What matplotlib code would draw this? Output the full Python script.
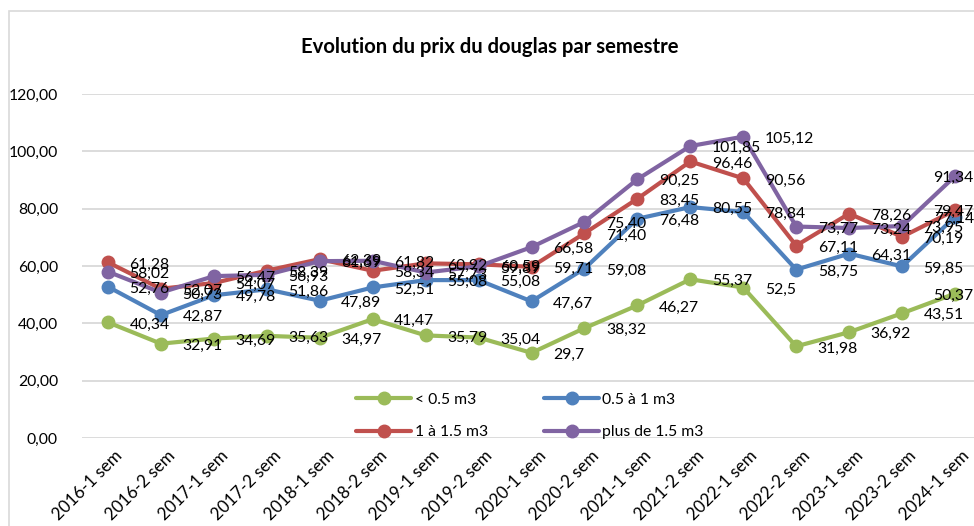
import matplotlib
matplotlib.use("Agg")
import matplotlib.pyplot as plt
import matplotlib.transforms as mtransforms
from matplotlib.patches import Rectangle

categories = ["2016-1 sem", "2016-2 sem", "2017-1 sem", "2017-2 sem", "2018-1 sem",
              "2018-2 sem", "2019-1 sem", "2019-2 sem", "2020-1 sem", "2020-2 sem",
              "2021-1 sem", "2021-2 sem", "2022-1 sem", "2022-2 sem", "2023-1 sem",
              "2023-2 sem", "2024-1 sem"]

small = [40.34, 32.91, 34.69, 35.63, 34.97, 41.47, 35.79, 35.04, 29.7, 38.32,
         46.27, 55.37, 52.5, 31.98, 36.92, 43.51, 50.37]
medium = [52.76, 42.87, 49.78, 51.86, 47.89, 52.51, 55.08, 55.08, 47.67, 59.08,
          76.48, 80.55, 78.84, 58.75, 64.31, 59.85, 77.14]
large = [61.28, 52.07, 54.07, 58.39, 62.39, 58.34, 60.92, 60.59, 59.71, 71.40,
         83.45, 96.46, 90.56, 67.11, 78.26, 70.19, 79.47]
xlarge = [58.02, 50.73, 56.47, 56.93, 61.69, 61.82, 57.73, 59.89, 66.58, 75.40,
          90.25, 101.85, 105.12, 73.77, 73.24, 73.95, 91.34]

series_names = ["< 0.5 m3", "0.5 à 1 m3", "1 à 1.5 m3", "plus de 1.5 m3"]
colors = ["#9BBB59", "#4F81BD", "#C0504D", "#8064A2"]
yticks = [0, 20, 40, 60, 80, 100, 120]

def fmt(v):
    s = ("%.2f" % v).rstrip("0").rstrip(".") if v in (29.7, 52.5) else "%.2f" % v
    return s.replace(".", ",")

plt.rcParams['font.family'] = ['Lato', 'DejaVu Sans']

W, H = 974, 526
fig = plt.figure(figsize=(W / 100, H / 100), dpi=100)

# chart border
fig.patches.append(Rectangle((8.5 / W, -0.1), 1.2, 1 - 11 / H + 0.1, transform=fig.transFigure,
                             fill=False, edgecolor="#D9D9D9", linewidth=1.2))

left, right = 81.5, 981.5
top, bottom = 94, 438
ax = fig.add_axes([left / W, 1 - bottom / H, (right - left) / W, (bottom - top) / H])
ax.set_xlim(-0.5, len(categories) - 0.5)
ax.set_ylim(0, 120)

x = list(range(len(categories)))
all_series = [small, medium, large, xlarge]
handles = []
for vals, name, c in zip(all_series, series_names, colors):
    h, = ax.plot(x, vals, color=c, linewidth=3.0, marker="o", markersize=9,
                 label=name, solid_capstyle="round", zorder=3, clip_on=False)
    handles.append(h)

for vals in all_series:
    for i, v in enumerate(vals):
        if i == len(vals) - 1:
            ax.annotate(fmt(v), (i, v), xytext=(13.5, -1.5), textcoords="offset points",
                        ha="right", va="center", fontsize=11.3, color="black", zorder=5,
                        annotation_clip=False)
        else:
            ax.annotate(fmt(v), (i, v), xytext=(15.5, -1.5), textcoords="offset points",
                        ha="left", va="center", fontsize=11.3, color="black", zorder=5)

ax.set_yticks(yticks)
ax.set_yticklabels([("%.2f" % t).replace(".", ",") for t in yticks], fontsize=11.3)
ax.yaxis.grid(True, color="#D9D9D9", linewidth=1.3)
ax.set_axisbelow(True)
ax.tick_params(axis="y", length=0, pad=17)
ax.tick_params(axis="x", length=0, pad=7)
ax.set_xticks(x)
ax.set_xticklabels(categories, rotation=45, ha="right", rotation_mode="anchor", fontsize=12.3)
offset = mtransforms.ScaledTranslation(6 / 100, 0, fig.dpi_scale_trans)
for lbl in ax.get_xticklabels():
    lbl.set_transform(lbl.get_transform() + offset)
for s in ax.spines.values():
    s.set_visible(False)

fig.text(490 / W, 1 - 47 / H, "Evolution du prix du douglas par semestre", ha="center",
         va="center", fontsize=14.6, fontweight="bold")

order = [0, 2, 1, 3]
ax.legend([handles[k] for k in order], [series_names[k] for k in order],
          loc="center", bbox_to_anchor=(530 / W, 1 - 416 / H), bbox_transform=fig.transFigure,
          ncol=2, frameon=False, fontsize=11.3, handlelength=3.5, handletextpad=0.2,
          columnspacing=3.6, labelspacing=1.2)

fig.savefig("out.png", dpi=100)
